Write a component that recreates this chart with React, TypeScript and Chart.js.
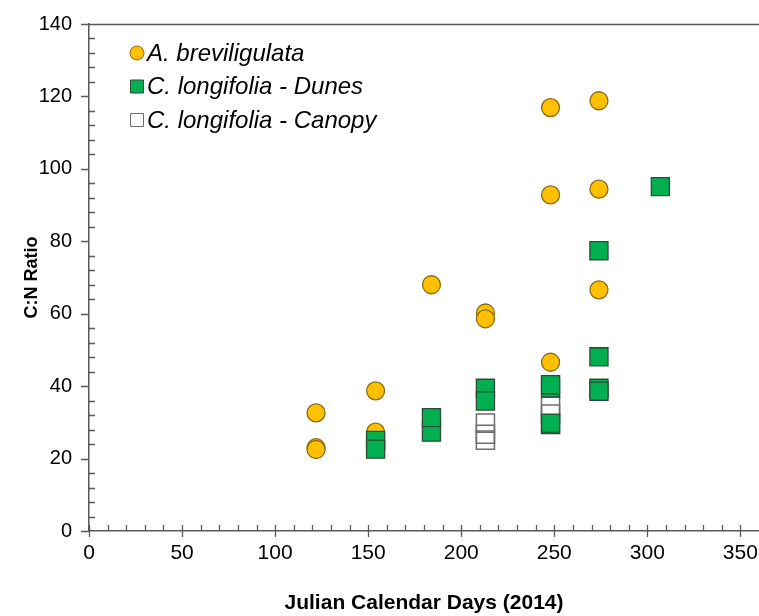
import React, { useEffect, useRef } from "react";
import { Chart, registerables } from "chart.js";

Chart.register(...registerables);

// ---- Data ----
const seriesNames = ["A. breviligulata", "C. longifolia - Dunes", "C. longifolia - Canopy"];

const brevDays = [122, 122, 122, 154, 154, 184, 213, 213, 248, 248, 248, 274, 274, 274];
const brevRatio = [32.6, 23.0, 22.5, 38.7, 27.3, 68.0, 60.2, 58.6, 116.9, 92.8, 46.6, 118.8, 94.4, 66.6];

const dunesDays = [154, 154, 184, 184, 213, 213, 248, 248, 248, 248, 274, 274, 274, 274, 307];
const dunesRatio = [25.0, 22.6, 27.3, 31.3, 39.4, 35.9, 39.5, 40.4, 29.4, 29.8, 77.4, 48.1, 39.4, 38.6, 95.1];

const canopyDays = [213, 213, 213, 248, 248];
const canopyRatio = [29.8, 26.7, 25.1, 34.5, 32.3];

const xTickValues = [0, 50, 100, 150, 200, 250, 300, 350];
const yTickValues = [0, 20, 40, 60, 80, 100, 120, 140];
const xRange = [0, 360];
const yRange = [0, 140];
const xMinorStep = 10;
const yMinorStep = 4;

const xTitle = "Julian Calendar Days (2014)";
const yTitle = "C:N Ratio";

// ---- Styles ----
const FONT = "'Liberation Sans', Arial, Helvetica, sans-serif";
const AXIS_COLOR = "#595959";
const brevFill = "#FFC000";
const brevBorder = "#8A6A10";
const dunesFill = "#00B050";
const dunesBorder = "#2F4A37";
const canopyFill = "rgba(255,255,255,0)";
const canopyBorder = "#6E6E6E";

const toPoints = (xs: number[], ys: number[]) => xs.map((x, i) => ({ x, y: ys[i] }));

const axisDecor = {
  id: "axisDecor",
  afterDraw(chart: any) {
    const { ctx, chartArea, scales } = chart;
    const xs = scales.x;
    const ys = scales.y;
    ctx.save();
    ctx.strokeStyle = AXIS_COLOR;
    ctx.lineWidth = 1.3;
    ctx.beginPath();
    // top frame line
    ctx.moveTo(chartArea.left, chartArea.top + 0.5);
    ctx.lineTo(chartArea.right, chartArea.top + 0.5);
    // y ticks
    for (let v = yRange[0]; v <= yRange[1]; v += yMinorStep) {
      const py = Math.round(ys.getPixelForValue(v)) + 0.5;
      if (yTickValues.includes(v)) {
        ctx.moveTo(chartArea.left - 8, py);
        ctx.lineTo(chartArea.left, py);
      } else {
        ctx.moveTo(chartArea.left, py);
        ctx.lineTo(chartArea.left + 6, py);
      }
    }
    // x ticks
    for (let v = xRange[0]; v < xRange[1]; v += xMinorStep) {
      const px = Math.round(xs.getPixelForValue(v)) + 0.5;
      if (xTickValues.includes(v)) {
        ctx.moveTo(px, chartArea.bottom - 6);
        ctx.lineTo(px, chartArea.bottom + 6);
      } else {
        ctx.moveTo(px, chartArea.bottom - 6);
        ctx.lineTo(px, chartArea.bottom);
      }
    }
    ctx.stroke();

    // legend
    const rows = [
      { name: seriesNames[0], style: "circle", fill: brevFill, border: brevBorder },
      { name: seriesNames[1], style: "rect", fill: dunesFill, border: dunesBorder },
      { name: seriesNames[2], style: "rect", fill: "#FFFFFF", border: canopyBorder },
    ];
    const lx = chartArea.left + 48;
    const ly0 = chartArea.top + 29;
    const dy = 33.5;
    ctx.font = "italic 24px " + FONT;
    ctx.textBaseline = "middle";
    ctx.textAlign = "left";
    rows.forEach((r, i) => {
      const cy = ly0 + i * dy;
      ctx.lineWidth = 1;
      ctx.strokeStyle = r.border;
      ctx.fillStyle = r.fill;
      ctx.beginPath();
      if (r.style === "circle") {
        ctx.arc(lx, cy, 7, 0, Math.PI * 2);
      } else {
        ctx.rect(lx - 6.5, cy - 6.5, 13, 13);
      }
      ctx.fill();
      ctx.stroke();
      ctx.fillStyle = "#000";
      ctx.fillText(r.name, lx + 10, cy + 1);
    });
    ctx.restore();
  },
};

export default function App() {
  const ref = useRef<HTMLCanvasElement | null>(null);

  useEffect(() => {
    if (!ref.current) return;
    const chart = new Chart(ref.current, {
      type: "scatter",
      data: {
        datasets: [
          {
            label: seriesNames[0],
            data: toPoints(brevDays, brevRatio),
            pointStyle: "circle",
            pointRadius: 9,
            pointHoverRadius: 9,
            backgroundColor: brevFill,
            borderColor: brevBorder,
            pointBorderWidth: 1.3,
            order: 2,
          },
          {
            label: seriesNames[2],
            data: toPoints(canopyDays, canopyRatio),
            pointStyle: "rect",
            pointRadius: 12.8,
            pointHoverRadius: 12.8,
            backgroundColor: canopyFill,
            borderColor: canopyBorder,
            pointBorderWidth: 1.5,
            order: 1,
          },
          {
            label: seriesNames[1],
            data: toPoints(dunesDays, dunesRatio),
            pointStyle: "rect",
            pointRadius: 12.8,
            pointHoverRadius: 12.8,
            backgroundColor: dunesFill,
            borderColor: dunesBorder,
            pointBorderWidth: 1.3,
            order: 0,
          },
        ],
      },
      options: {
        responsive: false,
        animation: false,
        devicePixelRatio: 1,
        layout: { autoPadding: false, padding: { left: 0, top: 24, right: 0, bottom: 0 } },
        plugins: {
          legend: { display: false },
          tooltip: { enabled: false },
        },
        scales: {
          x: {
            type: "linear",
            position: "bottom",
            min: xRange[0],
            max: xRange[1],
            grid: { display: false, drawTicks: false },
            border: { display: true, color: AXIS_COLOR, width: 1.5 },
            ticks: {
              stepSize: 50,
              maxRotation: 0,
              autoSkip: false,
              padding: 10,
              color: "#000",
              font: { family: FONT, size: 21 },
            },
            afterBuildTicks: (s: any) => {
              s.ticks = xTickValues.map((v) => ({ value: v }));
            },
            afterFit: (s: any) => {
              s.height = 85;
              s.paddingLeft = 0;
              s.paddingRight = 0;
            },
            title: {
              display: true,
              text: xTitle,
              color: "#000",
              font: { family: FONT, size: 21, weight: "bold" },
              padding: { top: 0, bottom: 0 },
            },
          },
          y: {
            type: "linear",
            position: "left",
            min: yRange[0],
            max: yRange[1],
            grid: { display: false, drawTicks: false },
            border: { display: true, color: AXIS_COLOR, width: 1.5 },
            ticks: {
              stepSize: 20,
              padding: 17,
              color: "#000",
              font: { family: FONT, size: 20 },
            },
            afterBuildTicks: (s: any) => {
              s.ticks = yTickValues.map((v) => ({ value: v }));
            },
            afterFit: (s: any) => {
              s.width = 89;
              s.paddingTop = 0;
              s.paddingBottom = 0;
            },
            title: {
              display: true,
              text: yTitle,
              color: "#000",
              font: { family: FONT, size: 18, weight: "bold" },
              padding: { top: 21, bottom: 0 },
            },
          },
        },
      },
      plugins: [axisDecor],
    });
    return () => chart.destroy();
  }, []);

  return (
    <div style={{ position: "fixed", left: 0, top: 0, width: 759, height: 616, background: "#fff" }}>
      <canvas ref={ref} width={759} height={616} style={{ display: "block" }} />
    </div>
  );
}
